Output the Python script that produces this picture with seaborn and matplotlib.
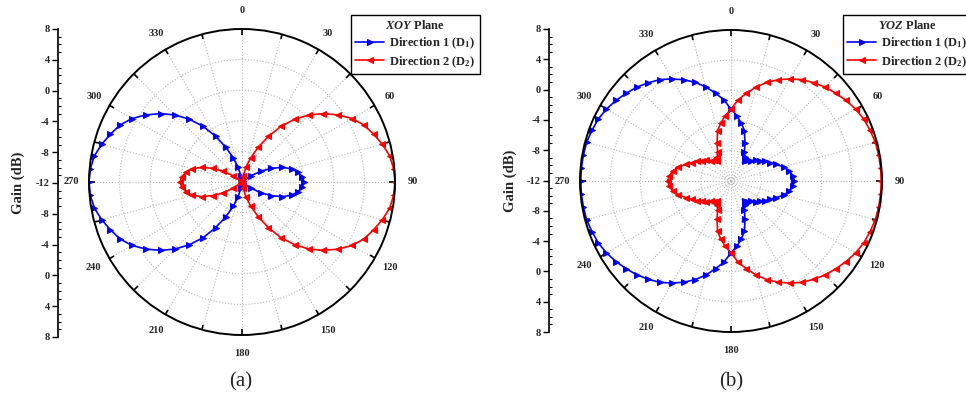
import numpy as np
import pandas as pd
import matplotlib
matplotlib.use("Agg")
import matplotlib.pyplot as plt
import seaborn as sns
from matplotlib.ticker import MultipleLocator

sns.set_style("white")
plt.rcParams["font.family"] = ["Liberation Serif", "DejaVu Serif"]
plt.rcParams["font.weight"] = "bold"
plt.rcParams["mathtext.fontset"] = "custom"
plt.rcParams["mathtext.it"] = "Liberation Serif:italic:bold"
plt.rcParams["mathtext.default"] = "regular"

# angle of each sample (deg), gain in dB
angles = np.arange(0, 361, 5)

xoy_d1 = [-12, -12, -12, -12, -12, -12, -12, -12, -12, -12,
          -11.8, -10.6, -9.2, -7.8, -6.4, -5.3, -4.6, -4.1, -3.9, -4.1,
          -4.6, -5.3, -6.4, -7.8, -9.2, -10.6, -11.8,
          -12, -12, -12, -12, -12, -12, -12, -12, -12, -12,
          -11.8, -11.2, -10.0, -8.6, -7.0, -5.1, -3.1, -1.3, 0.4, 1.9,
          3.3, 4.6, 5.6, 6.3, 7.0, 7.6, 7.9, 8.0, 7.9, 7.6,
          7.0, 6.3, 5.6, 4.6, 3.3, 1.9, 0.4, -1.3, -3.1, -5.1,
          -7.0, -8.6, -10.0, -11.2, -11.8, -12]

xoy_d2 = [-12, -11.8, -11.2, -10.0, -8.6, -7.0, -5.1, -3.1, -1.3, 0.4,
          1.9, 3.3, 4.6, 5.6, 6.3, 7.0, 7.6, 7.9, 8.0, 7.9,
          7.6, 7.0, 6.3, 5.6, 4.6, 3.3, 1.9, 0.4, -1.3, -3.1,
          -5.1, -7.0, -8.6, -10.0, -11.2, -11.8, -12,
          -12, -12, -12, -12, -12, -12, -12, -12, -12,
          -11.8, -10.6, -9.2, -7.8, -6.4, -5.3, -4.6, -4.1, -3.9, -4.1,
          -4.6, -5.3, -6.4, -7.8, -9.2, -10.6, -11.8,
          -12, -12, -12, -12, -12, -12, -12, -12, -12, -12]

yoz_d1 = [-2.5, -3.3, -4.2, -5.1, -6.6, -7.8, -8.4, -8.75, -8.4, -8.2,
          -7.7, -7.3, -6.8, -6.3, -5.6, -4.8, -4.2, -3.8, -3.6, -3.8,
          -4.2, -4.8, -5.6, -6.3, -6.8, -7.3, -7.7, -8.2, -8.4, -8.75,
          -8.4, -7.8, -6.6, -5.1, -4.2, -3.3, -2.5,
          -1.2, -0.2, 0.9, 1.9, 2.8, 3.6, 4.4, 5.0, 5.6, 6.1,
          6.6, 7.05, 7.4, 7.6, 7.8, 7.85, 7.9, 7.9, 7.9, 7.85,
          7.8, 7.6, 7.4, 7.05, 6.6, 6.1, 5.6, 5.0, 4.4, 3.6,
          2.8, 1.9, 0.9, -0.2, -1.2, -2.5]

yoz_d2 = [-2.5, -1.2, -0.2, 0.9, 1.9, 2.8, 3.6, 4.4, 5.0, 5.6,
          6.1, 6.6, 7.05, 7.4, 7.6, 7.8, 7.85, 7.9, 7.9, 7.9,
          7.85, 7.8, 7.6, 7.4, 7.05, 6.6, 6.1, 5.6, 5.0, 4.4,
          3.6, 2.8, 1.9, 0.9, -0.2, -1.2, -2.5,
          -3.3, -4.2, -5.1, -6.6, -7.8, -8.4, -8.75, -8.4, -8.2, -7.7,
          -7.3, -6.8, -6.3, -5.6, -4.8, -4.2, -3.8, -3.6, -3.8, -4.2,
          -4.8, -5.6, -6.3, -6.8, -7.3, -7.7, -8.2, -8.4, -8.75, -8.4,
          -7.8, -6.6, -5.1, -4.2, -3.3, -2.5]

gain_ticks = [-20, -16, -12, -8, -4, 0, 4, 8, 12, 16, 20]
gain_labels = ["8", "4", "0", "-4", "-8", "-12", "-8", "-4", "0", "4", "8"]
theta_ticks = list(range(0, 360, 15))
theta_labels = [str(t) if t % 30 == 0 else "" for t in theta_ticks]

fig = plt.figure(figsize=(9.66, 4.0), dpi=100)


def polar_panel(rect, d1, d2):
    ax = fig.add_axes(rect, projection="polar")
    ax.set_theta_zero_location("N")
    ax.set_theta_direction(-1)
    df1 = pd.DataFrame({"theta": np.radians(angles), "gain": d1})
    df2 = pd.DataFrame({"theta": np.radians(angles), "gain": d2})
    sns.lineplot(data=df1, x="theta", y="gain", ax=ax, sort=False, color="blue",
                 marker=">", markersize=4.5, markeredgecolor="blue", linewidth=1.2,
                 label="Direction 1 (D$_1$)")
    sns.lineplot(data=df2, x="theta", y="gain", ax=ax, sort=False, color="red",
                 marker="<", markersize=4.5, markeredgecolor="red", linewidth=1.2,
                 label="Direction 2 (D$_2$)")
    ax.set_ylim(-12, 8)
    ax.set_yticks([-8, -4, 0, 4])
    ax.set_yticklabels([])
    ax.set_xticks(np.radians(theta_ticks))
    ax.set_xticklabels(theta_labels, fontsize=7.5, fontweight="bold")
    # theta ticks only on the outer circle
    ax.tick_params(axis="x", bottom=False, top=True, direction="in", length=4,
                   width=1.2, color="black", pad=6)
    ax.grid(True, color="#b8b8b8", linestyle=":", linewidth=0.8)
    ax.spines["polar"].set_color("black")
    ax.spines["polar"].set_linewidth(1.4)
    ax.set_xlabel("")
    ax.set_ylabel("")
    return ax


def gain_axis(rect, label_x):
    g = fig.add_axes(rect)
    g.set_ylim(-20, 20)
    g.set_yticks(gain_ticks)
    g.set_yticklabels(gain_labels, fontsize=7.5, fontweight="bold")
    g.yaxis.set_minor_locator(MultipleLocator(1))
    g.tick_params(axis="y", which="both", left=True, color="black")
    g.tick_params(axis="y", which="major", direction="out", length=4, width=1, pad=2)
    g.tick_params(axis="y", which="minor", direction="in", length=2.5, width=0.8)
    g.set_xticks([])
    for s in ["top", "right", "bottom"]:
        g.spines[s].set_visible(False)
    g.spines["left"].set_color("black")
    g.spines["left"].set_linewidth(1.2)
    g.patch.set_alpha(0)
    fig.text(label_x, (rect[1] + rect[3] / 2), "Gain (dB)", rotation=90,
             ha="center", va="center", fontsize=10.5, fontweight="bold")


ax_a = polar_panel([89 / 966, 65 / 400, 306 / 966, 306 / 400], xoy_d1, xoy_d2)
ax_b = polar_panel([580 / 966, 68 / 400, 302 / 966, 302 / 400], yoz_d1, yoz_d2)

gain_axis([58 / 966, 63 / 400, 0.001, 308 / 400], 18 / 966)
gain_axis([549 / 966, 68 / 400, 0.001, 303 / 400], 510 / 966)

# legend of panel (b) runs to the right edge, as in the source figure
for ax, plane, lx in [(ax_a, "XOY", 351 / 966), (ax_b, "YOZ", 843 / 966)]:
    leg = ax.legend(loc="upper left", bbox_to_anchor=(lx, 1 - 15 / 400),
                    bbox_transform=fig.transFigure, title=r"$\it{" + plane + "}$ Plane",
                    fontsize=9, title_fontsize=9, frameon=True, fancybox=False,
                    framealpha=1, edgecolor="black", borderpad=0.35,
                    handlelength=2.3, handletextpad=0.4, labelspacing=0.25,
                    borderaxespad=0)
    leg.get_frame().set_linewidth(1.0)
    leg.get_title().set_fontweight("bold")
    for t in leg.get_texts():
        t.set_fontweight("bold")

fig.text(241 / 966, 18 / 400, "(a)", ha="center", va="center", fontsize=15, fontweight="normal")
fig.text(731 / 966, 18 / 400, "(b)", ha="center", va="center", fontsize=15, fontweight="normal")

fig.savefig("out.png", dpi=100)
